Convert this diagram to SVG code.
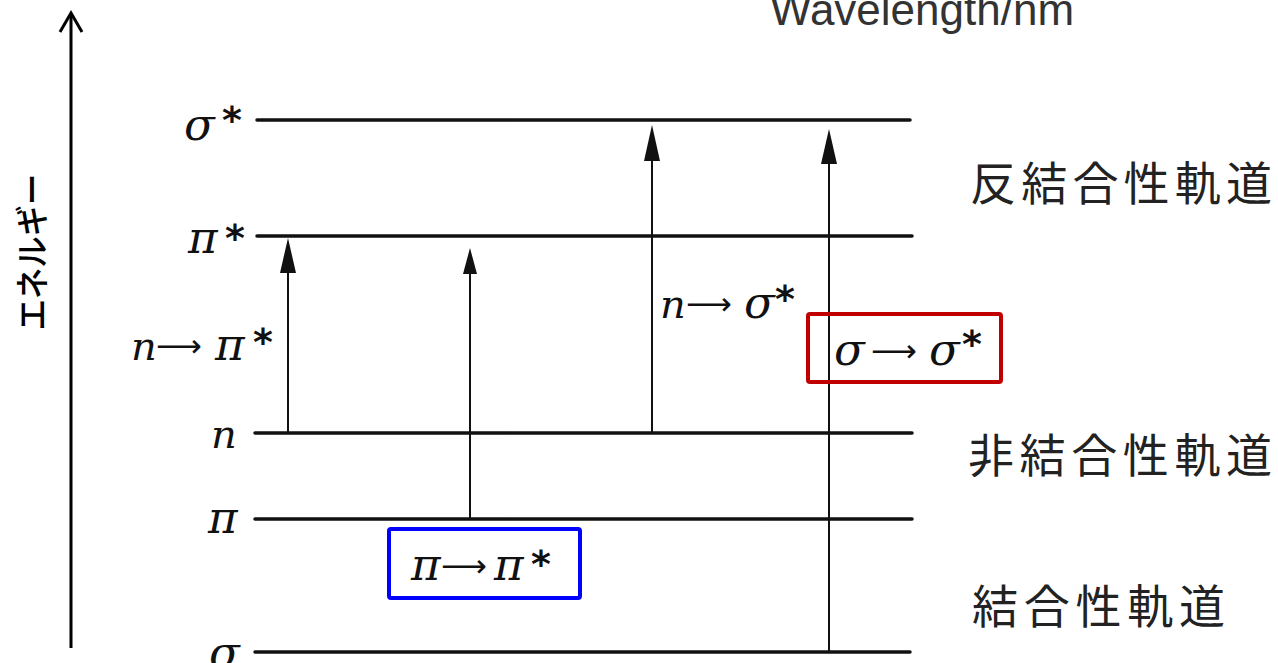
<svg xmlns="http://www.w3.org/2000/svg" width="1278" height="663" viewBox="0 0 1278 663">
  <style>
    .level { stroke: #111; stroke-width: 3.5; stroke-linecap: round; }
    .trans { stroke: #111; stroke-width: 2; }
    .math { font-family: "DejaVu Serif", "Liberation Serif", serif; font-style: italic; font-size: 40px; fill: #111; }
    .g { font-size: 45px; }
    .star { font-family: "DejaVu Sans", sans-serif; font-style: normal; font-weight: bold; font-size: 38px; }
    .arr { font-family: "DejaVu Sans", sans-serif; font-style: normal; font-size: 32px; }
    .jp { font-family: "Noto Sans CJK JP", sans-serif; font-size: 46px; fill: #222; }
  </style>
  <rect width="1278" height="663" fill="#ffffff"/>

  <g id="energy-axis">
    <line x1="71" y1="648" x2="71" y2="14" stroke="#000" stroke-width="3"/>
    <polyline points="60,32 71,13 82,32" fill="none" stroke="#000" stroke-width="3"/>
    <text x="30" y="252" transform="rotate(-90 30 252)" text-anchor="middle" dominant-baseline="central" font-family="Noto Sans CJK JP, sans-serif" font-size="34" font-weight="500" fill="#000" textLength="157" lengthAdjust="spacingAndGlyphs">エネルギー</text>
  </g>

  <g id="wavelength-label">
    <text x="770" y="25" font-family="Liberation Sans, Arial, sans-serif" font-size="44" fill="#333">Wavelength/nm</text>
  </g>

  <g id="level-sigma-star">
    <line class="level" x1="257" y1="120" x2="910" y2="120"/>
    <text class="math" y="140"><tspan class="g" x="184">σ</tspan><tspan class="star" x="222" y="133">*</tspan></text>
  </g>
  <g id="level-pi-star">
    <line class="level" x1="257" y1="236" x2="912" y2="236"/>
    <text class="math" y="253"><tspan class="g" x="188">π</tspan><tspan class="star" x="225" y="251">*</tspan></text>
  </g>
  <g id="level-n">
    <line class="level" x1="255" y1="433" x2="912" y2="433"/>
    <text class="math" x="211" y="448">n</text>
  </g>
  <g id="level-pi">
    <line class="level" x1="255" y1="519" x2="912" y2="519"/>
    <text class="math" y="533"><tspan class="g" x="208">π</tspan></text>
  </g>
  <g id="level-sigma">
    <line class="level" x1="255" y1="652" x2="910" y2="652"/>
    <text class="math" y="668"><tspan class="g" x="209">σ</tspan></text>
  </g>

  <g id="connectors">
    <line class="trans" x1="288" y1="433" x2="288" y2="270"/>
    <path d="M288,238 L280,273 L296,273 Z" fill="#111"/>
    <line class="trans" x1="470" y1="519" x2="470" y2="270"/>
    <path d="M470,248 L463,274 L477,274 Z" fill="#111"/>
    <line class="trans" x1="652" y1="433" x2="652" y2="158"/>
    <path d="M652,125 L644,161 L660,161 Z" fill="#111"/>
    <line class="trans" x1="829" y1="652" x2="829" y2="160"/>
    <path d="M829,129 L821,164 L837,164 Z" fill="#111"/>
  </g>

  <g id="label-n-pi-star">
    <text class="math" y="360"><tspan x="131">n</tspan><tspan class="arr" x="156" y="357">⟶</tspan><tspan class="g" x="215" y="360">π</tspan><tspan class="star" x="253" y="355">*</tspan></text>
  </g>
  <g id="label-n-sigma-star">
    <text class="math" y="318"><tspan x="660">n</tspan><tspan class="arr" x="686" y="315">⟶</tspan><tspan class="g" x="744" y="318">σ</tspan><tspan class="star" x="775" y="312">*</tspan></text>
  </g>
  <g id="label-sigma-sigma-star">
    <rect x="808" y="314" width="193" height="68" rx="2" fill="none" stroke="#c00000" stroke-width="4"/>
    <text class="math" y="365"><tspan class="g" x="834">σ</tspan><tspan class="arr" x="871" y="362">⟶</tspan><tspan class="g" x="929" y="365">σ</tspan><tspan class="star" x="962" y="357">*</tspan></text>
  </g>
  <g id="label-pi-pi-star">
    <rect x="389" y="529" width="191" height="69" rx="2" fill="none" stroke="#0000ff" stroke-width="4"/>
    <text class="math" y="580"><tspan class="g" x="411">π</tspan><tspan class="arr" x="441" y="577">⟶</tspan><tspan class="g" x="494" y="580">π</tspan><tspan class="star" x="531" y="577">*</tspan></text>
  </g>

  <g id="label-antibonding">
    <text class="jp" x="970" y="200" textLength="302" lengthAdjust="spacing">反結合性軌道</text>
  </g>
  <g id="label-nonbonding">
    <text class="jp" x="968" y="472" textLength="304" lengthAdjust="spacing">非結合性軌道</text>
  </g>
  <g id="label-bonding">
    <text class="jp" x="972" y="623" textLength="253" lengthAdjust="spacing">結合性軌道</text>
  </g>
</svg>
